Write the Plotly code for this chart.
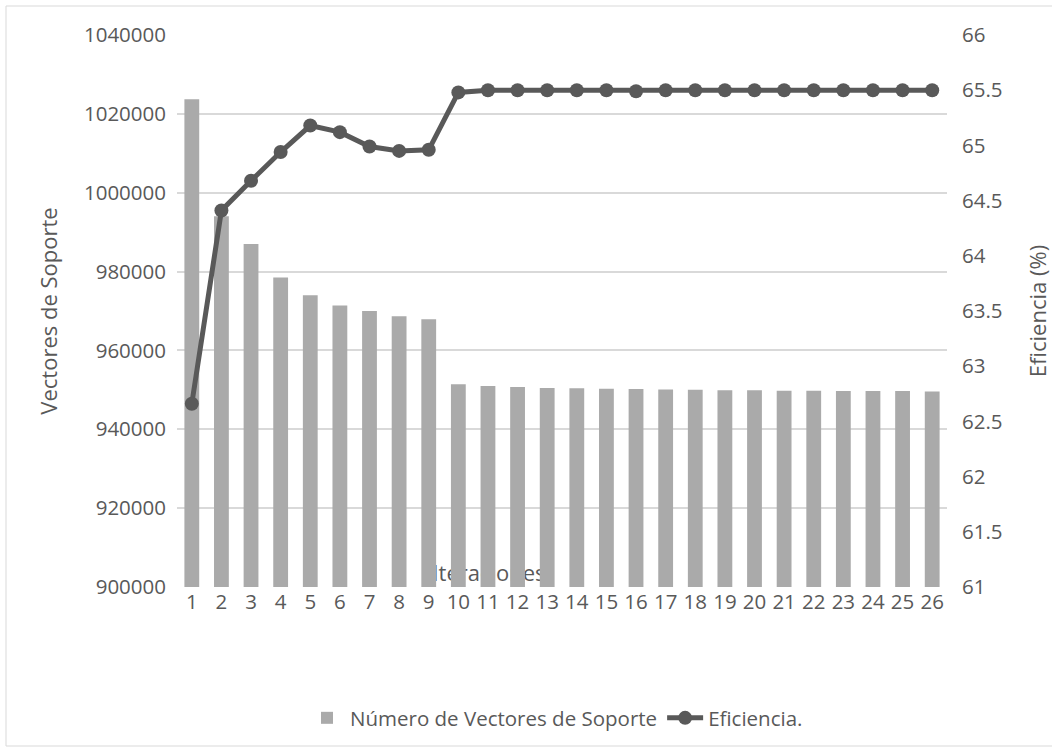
import plotly.graph_objects as go

# Datos del gráfico
iteraciones = [str(i) for i in range(1, 27)]
vectores_soporte = [
    1023700, 994000, 987000, 978500, 974000, 971400, 970000, 968700, 967900,
    951400, 951000, 950700, 950500, 950400, 950300, 950200, 950100, 950000,
    949900, 949900, 949800, 949800, 949700, 949700, 949700, 949600,
]
eficiencia = [
    62.66, 64.41, 64.68, 64.94, 65.18, 65.12, 64.99, 64.95, 64.96,
    65.48, 65.50, 65.50, 65.50, 65.50, 65.50, 65.49, 65.50, 65.50,
    65.50, 65.50, 65.50, 65.50, 65.50, 65.50, 65.50, 65.50,
]
ticks_izq = list(range(900000, 1040001, 20000))
ticks_der = [61, 61.5, 62, 62.5, 63, 63.5, 64, 64.5, 65, 65.5, 66]

W, H = 1052, 751
ML, MR, MT, MB = 177, 105, 35, 164
PW, PH = W - ML - MR, H - MT - MB

FONT = "Open Sans"
GRIS_TXT = "#595959"
GRIS_BARRA = "#aaaaaa"
GRIS_LINEA = "#595959"
TICK_SZ = 20.5
TIT_SZ = 22

fig = go.Figure()

fig.add_trace(go.Bar(
    x=iteraciones, y=vectores_soporte,
    name="Número de Vectores de Soporte",
    marker=dict(color=GRIS_BARRA, line=dict(width=0)),
    yaxis="y",
))
fig.add_trace(go.Scatter(
    x=iteraciones, y=eficiencia,
    name="Eficiencia.",
    mode="lines+markers",
    line=dict(color=GRIS_LINEA, width=5),
    marker=dict(color=GRIS_LINEA, size=14),
    yaxis="y2",
))


def px_x(v):
    return (v - ML) / PW


def px_y(v):
    return 1 - (v - MT) / PH


shapes = [
    # marco exterior
    dict(type="rect", xref="paper", yref="paper",
         x0=px_x(6), x1=px_x(1060), y0=px_y(6), y1=px_y(746),
         line=dict(color="#d9d9d9", width=1), fillcolor="rgba(0,0,0,0)",
         layer="below"),
    # título del eje X, detrás de las barras
    dict(type="rect", xref="paper", yref="paper",
         x0=px_x(418), x1=px_x(560), y0=px_y(586), y1=px_y(562),
         line=dict(width=0), fillcolor="rgba(0,0,0,0)", layer="below",
         label=dict(text="Iteraciones", textposition="middle center",
                    font=dict(family=FONT, size=TIT_SZ, color=GRIS_TXT))),
]

fig.update_layout(
    width=W, height=H,
    margin=dict(l=ML, r=MR, t=MT, b=MB, autoexpand=False),
    paper_bgcolor="white", plot_bgcolor="white",
    font=dict(family=FONT, size=TICK_SZ, color=GRIS_TXT),
    bargap=0.5,
    showlegend=True,
    legend=dict(orientation="h", x=px_x(556), xanchor="center",
                y=px_y(718), yanchor="middle",
                font=dict(family=FONT, size=TICK_SZ, color=GRIS_TXT),
                itemwidth=36, traceorder="normal"),
    xaxis=dict(
        type="category", range=[-0.5, 25.5], automargin=False,
        showgrid=False, showline=False, zeroline=False,
        ticks="", tickfont=dict(size=TICK_SZ, color=GRIS_TXT),
    ),
    yaxis=dict(
        range=[900000, 1040000], tickvals=ticks_izq, automargin=False,
        ticktext=[str(v) for v in ticks_izq],
        showgrid=True, gridcolor="#d9d9d9", gridwidth=1.5,
        zeroline=False, showline=False, ticks="",
        tickfont=dict(size=TICK_SZ, color=GRIS_TXT), ticklabelstandoff=10,
        title=dict(text="Vectores de Soporte", standoff=20,
                   font=dict(size=TIT_SZ, color=GRIS_TXT)),
    ),
    yaxis2=dict(
        range=[61, 66], tickvals=ticks_der, automargin=False,
        ticktext=[f"{v:g}" for v in ticks_der],
        overlaying="y", side="right",
        showgrid=False, zeroline=False, showline=False, ticks="",
        tickfont=dict(size=TICK_SZ, color=GRIS_TXT), ticklabelstandoff=14,
        title=dict(text="Eficiencia (%)", standoff=30,
                   font=dict(size=TIT_SZ, color=GRIS_TXT)),
    ),
    shapes=shapes,
)

fig.write_html("out.html")
